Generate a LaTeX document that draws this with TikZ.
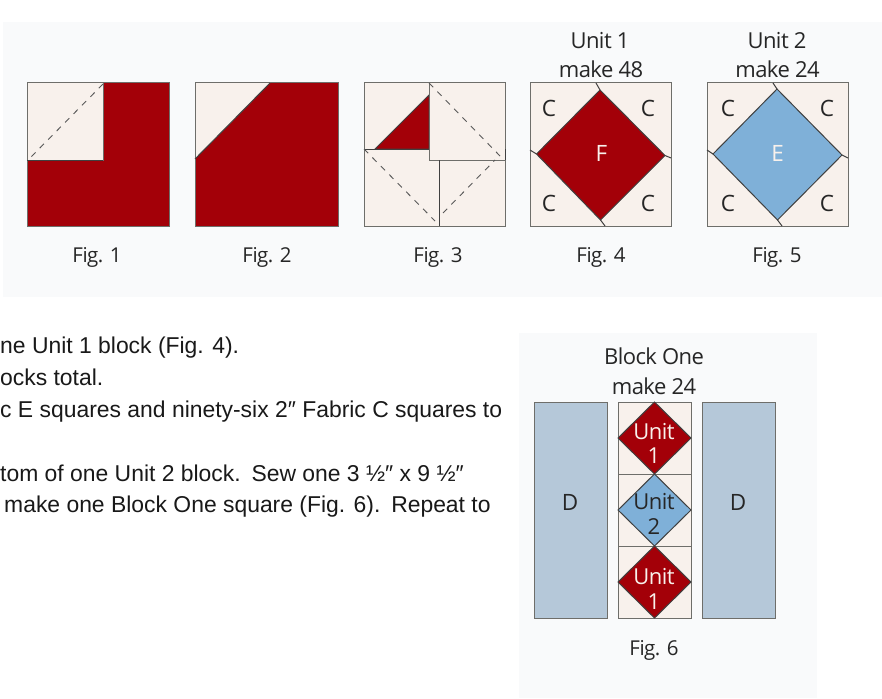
\documentclass[tikz,border=0pt]{standalone}
\usepackage{xcolor}
\usepackage{fontspec}
\setmainfont[LetterSpace=-2.5]{Open Sans}
\newfontfamily\bodyfont{Liberation Sans}
\usetikzlibrary{positioning}
\definecolor{panelgrey}{HTML}{F9FAFB}
\definecolor{quiltred}{HTML}{A30008}
\definecolor{quiltcream}{HTML}{F8F1EC}
\definecolor{quiltblue}{HTML}{7FB0D8}
\definecolor{quiltslate}{HTML}{B5C8D9}
\definecolor{quiltedge}{HTML}{6E6E6A}
\tikzset{
  panel/.style={fill=panelgrey, draw=none},
  patch/.style={draw=quiltedge, line width=1pt},
  seam/.style={draw=black!75, line width=1pt},
  fold/.style={draw=black!65, line width=0.9pt, dash pattern=on 6pt off 6pt},
  figlabel/.style={font=\fontsize{20.5}{23}\selectfont, text=black!85},
  letter/.style={font=\fontsize{22.5}{25}\selectfont, text=black!85},
  unitlabel/.style={font=\fontsize{22}{25}\selectfont},
  bodytext/.style={font=\bodyfont\fontsize{22.9}{25}\selectfont, anchor=base west, inner sep=0pt, text=black!90}
}
\begin{document}
\begin{tikzpicture}[x=1pt, y=-1pt]
\useasboundingbox (0,0) rectangle (882,698);
\fill[white] (0,0) rectangle (882,698);
\fill[panel] (3,22) rectangle (882,297);
\fill[panel] (519,333) rectangle (817,698);

% Fig. 1
\draw[patch, fill=quiltred] (27,83) rectangle (169.5,226);
\draw[patch, fill=quiltcream] (27,83) rectangle (103,160);
\draw[seam] (27,160) -- (103,160);
\draw[fold] (103,84) -- (31,157);
\node[figlabel] (fig_1) at (97,257) {Fig. 1};

% Fig. 2
\draw[patch, fill=quiltred] (195,83) rectangle (338,226);
\fill[quiltcream] (195,83) -- (270,83) -- (195,159) -- cycle;
\draw[patch] (195,159) -- (195,83) -- (270,83);
\draw[seam] (270,83) -- (195,159);
\node[figlabel] (fig_2) at (267,257) {Fig. 2};

% Fig. 3
\draw[patch, fill=quiltcream] (364,83) rectangle (505,226);
\draw[seam, fill=quiltred] (375,149) -- (429,95) -- (429,149) -- cycle;
\draw[seam] (364,149) -- (429,149);
\draw[patch, fill=quiltcream] (429,83) rectangle (505,160);
\draw[seam] (439,160) -- (439,226);
\draw[seam] (505,149) -- (505,160);
\draw[fold] (429,83) -- (501,157);
\draw[fold] (364,149) -- (435,221);
\draw[fold] (443,213) -- (495,160);
\node[figlabel] (fig_3) at (438,257) {Fig. 3};

% Fig. 4
\draw[patch, fill=quiltcream] (530,83) rectangle (671,226);
\draw[seam] (596,83) -- (600,90) (671,158) -- (665,155.5) (605,226) -- (600.5,220) (530,150) -- (536.5,154);
\draw[seam, fill=quiltred] (600,90) -- (665,155.5) -- (600.5,220) -- (536.5,154) -- cycle;
\foreach \px/\py in {549/108, 648/108, 549/203, 648/203}
  \node[letter] at (\px,\py) {C};
\node[letter, text=quiltcream] (fabric_f) at (601.5,153) {F};
\node[figlabel, unitlabel] (unit_1) at (600,41) {Unit 1};
\node[figlabel, unitlabel] (make_48) at (601,69) {make 48};
\node[figlabel] (fig_4) at (601,257) {Fig. 4};

% Fig. 5
\draw[patch, fill=quiltcream] (707,83) rectangle (848,226);
\draw[seam] (773,83) -- (777,89) (848,158) -- (842,155) (782,226) -- (777.5,220) (707,150) -- (713,154);
\draw[seam, fill=quiltblue] (777,89) -- (842,155) -- (777.5,220) -- (713,154) -- cycle;
\foreach \px/\py in {728/108, 827/108, 728/203, 827/203}
  \node[letter] at (\px,\py) {C};
\node[letter, text=quiltcream] (fabric_e) at (777.5,153) {E};
\node[figlabel, unitlabel] (unit_2) at (777,41) {Unit 2};
\node[figlabel, unitlabel] (make_24) at (777.5,69) {make 24};
\node[figlabel] (fig_5) at (777,257) {Fig. 5};

% Fig. 6
\draw[patch, fill=quiltslate] (534,402) rectangle (607,618);
\draw[patch, fill=quiltslate] (702,402) rectangle (775,618);
\node[letter] (strip_left) at (570,502) {D};
\node[letter] (strip_right) at (738,502) {D};
\foreach \ytop/\col in {402/quiltred, 474/quiltblue, 546/quiltred} {
  \draw[patch, fill=quiltcream] (618,\ytop) rectangle (691,\ytop+72);
  \draw[seam, fill=\col] (654.5,\ytop) -- (691,\ytop+36) -- (654.5,\ytop+72) -- (618,\ytop+36) -- cycle;
}
\node[unitlabel, text=quiltcream] (top_a) at (654,432) {Unit};
\node[unitlabel, text=quiltcream] (top_b) at (654,456) {1};
\node[unitlabel, text=black!85] (mid_a) at (654,502) {Unit};
\node[unitlabel, text=black!85] (mid_b) at (654,527) {2};
\node[unitlabel, text=quiltcream] (low_a) at (654,577) {Unit};
\node[unitlabel, text=quiltcream] (low_b) at (654,602) {1};
\node[unitlabel, text=black!85] (block_one) at (654,356) {Block One};
\node[unitlabel, text=black!85] (make_block) at (654,386) {make 24};
\node[figlabel] (fig_6) at (654,650) {Fig. 6};

% body text, cut by the page edge
\node[bodytext] (line_a) at (0,353) {ne Unit 1 block (Fig. 4).};
\node[bodytext] (line_b) at (0,385) {ocks total.};
\node[bodytext] (line_c) at (0,417) {c E squares and ninety-six 2″ Fabric C squares to};
\node[bodytext] (line_d) at (0,481) {tom of one Unit 2 block.\hspace{0.1em} Sew one 3 ½″ x 9 ½″};
\node[bodytext] (line_e) at (4,512) {make one Block One square (Fig. 6).\hspace{0.1em} Repeat to};
\end{tikzpicture}
\end{document}
